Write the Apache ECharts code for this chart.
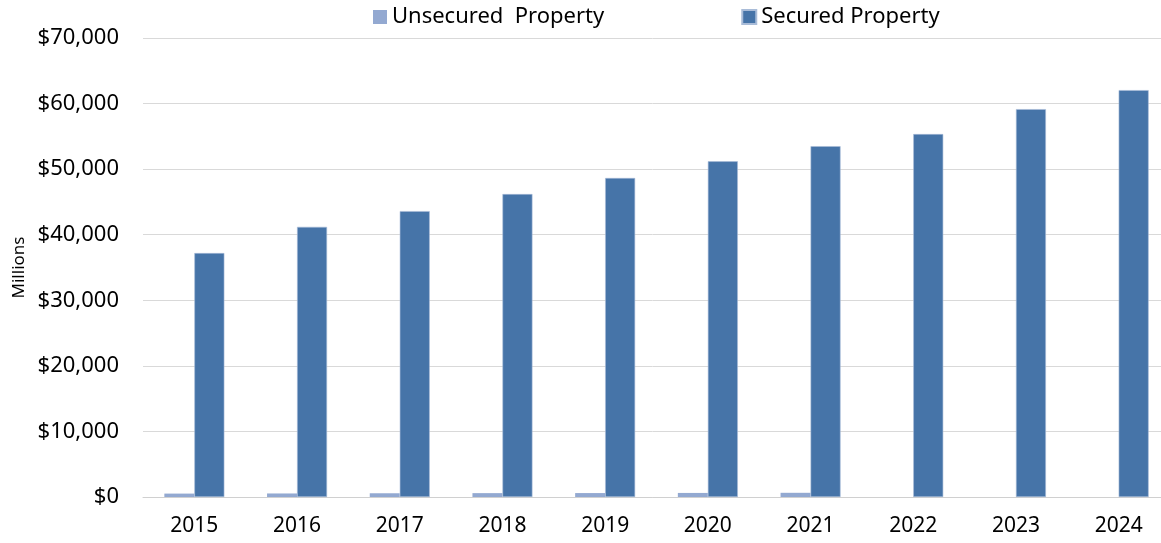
<!DOCTYPE html>
<html>
<head>
<meta charset="utf-8">
<script src="https://cdn.jsdelivr.net/npm/echarts@6/dist/echarts.min.js"></script>
<style>
  html, body { margin: 0; padding: 0; background: #fff; }
  #chart { width: 1161px; height: 543px; }
</style>
</head>
<body>
<div id="chart"></div>
<script>
// values in millions of dollars
var years = ["2015", "2016", "2017", "2018", "2019", "2020", "2021", "2022", "2023", "2024"];
var unsecured = [520, 540, 570, 590, 600, 620, 640, 0, 0, 0];
var secured = [37200, 41200, 43600, 46200, 48650, 51200, 53500, 55350, 59150, 62050];

var font = "Noto Sans";
var chart = echarts.init(document.getElementById("chart"));

chart.setOption({
    animation: false,
    textStyle: { fontFamily: font },
    legend: {
        left: 368,
        top: 1,
        itemWidth: 14,
        itemHeight: 14,
        itemGap: 137,
        icon: "rect",
        textStyle: { fontSize: 22, color: "#000", fontFamily: font },
        data: ["Unsecured  Property", "Secured Property"]
    },
    // the plot area runs slightly past the right edge of the picture
    grid: { left: 143, width: 1027, top: 38, bottom: 46, outerBoundsMode: "none" },
    xAxis: {
        type: "category",
        data: years,
        axisTick: { show: false },
        axisLine: { lineStyle: { color: "#d0d0d0", width: 1 } },
        axisLabel: { color: "#000", fontSize: 21, margin: 19 }
    },
    yAxis: {
        type: "value",
        min: 0,
        max: 70000,
        interval: 10000,
        name: "Millions",
        nameLocation: "middle",
        nameGap: 115,
        nameMoveOverlap: false,
        nameTextStyle: { color: "#000", fontSize: 17 },
        axisLine: { show: false },
        axisTick: { show: false },
        axisLabel: {
            color: "#000",
            fontSize: 22,
            margin: 24,
            formatter: function (v) {
                return "$" + v.toLocaleString("en-US");
            }
        },
        splitLine: { lineStyle: { color: "#d9d9d9", width: 1 } }
    },
    series: [
        {
            name: "Unsecured  Property",
            type: "bar",
            data: unsecured,
            barWidth: 30,
            barGap: "0%",
            itemStyle: { color: "#93a9d1" }
        },
        {
            name: "Secured Property",
            type: "bar",
            data: secured,
            barWidth: 30,
            itemStyle: { color: "#4674a8", borderColor: "#a9bcd8", borderWidth: 0.6 }
        }
    ]
});
</script>
</body>
</html>
